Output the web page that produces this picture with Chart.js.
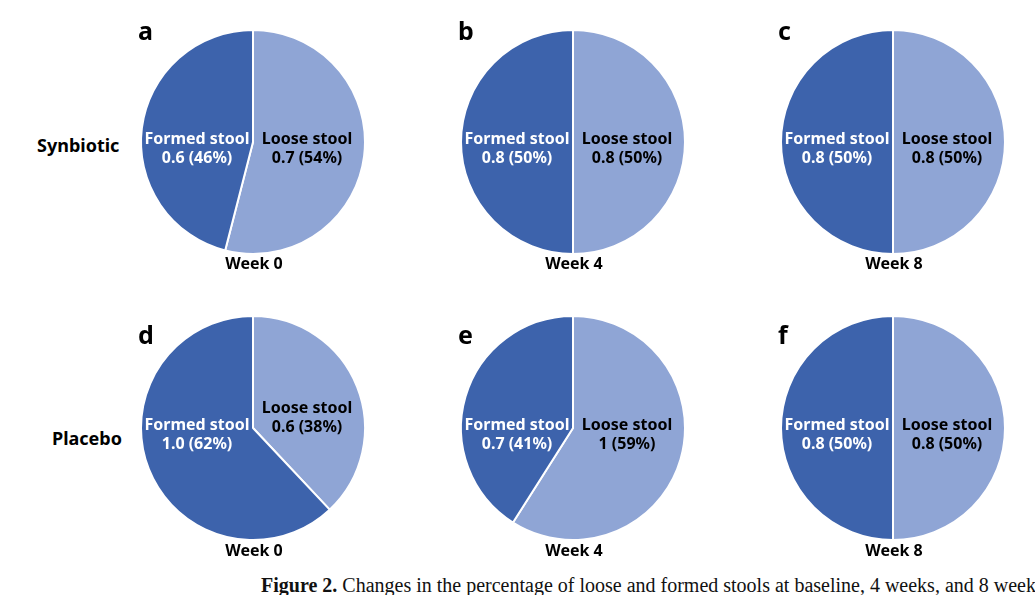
<!DOCTYPE html>
<html>
<head>
<meta charset="utf-8">
<script src="https://cdn.jsdelivr.net/npm/chart.js@4.4.1/dist/chart.umd.min.js"></script>
<style>
  body { margin: 0; width: 1035px; height: 595px; overflow: hidden; background: #fff; position: relative; font-family: "Noto Sans", sans-serif; }
  .pie { position: absolute; width: 240px; height: 240px; }
  .txt { position: absolute; font-weight: bold; white-space: nowrap; color: #000; line-height: 1; }
  .letter { font-size: 25px; }
  .group { font-size: 18px; }
  .week { font-size: 16px; transform: translateX(-50%); }
  #caption { position: absolute; top: 575px; font-family: "Liberation Serif", serif; font-size: 20px; white-space: nowrap; color: #111; line-height: 1; }
</style>
</head>
<body>
<div id="caption"><b>Figure 2.</b> <span id="capA">Changes in the percentage </span>of loose and formed stools at baseline, 4 weeks, and 8 weeks.</div>
<script>
// Data
const groups = ['Synbiotic', 'Placebo'];
const weeks = ['Week 0', 'Week 4', 'Week 8'];
const panelLetters = [['a', 'b', 'c'], ['d', 'e', 'f']];
const sliceNames = ['Loose stool', 'Formed stool'];

// percentages per week (loose first, then formed)
const synbioticLoosePct = [54, 50, 50];
const synbioticFormedPct = [46, 50, 50];
const placeboLoosePct = [38, 59, 50];
const placeboFormedPct = [62, 41, 50];

// mean values printed in the labels
const synbioticLooseVal = ['0.7', '0.8', '0.8'];
const synbioticFormedVal = ['0.6', '0.8', '0.8'];
const placeboLooseVal = ['0.6', '1', '0.8'];
const placeboFormedVal = ['1.0', '0.7', '0.8'];

const rows = [
  { loose: synbioticLoosePct, formed: synbioticFormedPct, looseVal: synbioticLooseVal, formedVal: synbioticFormedVal },
  { loose: placeboLoosePct, formed: placeboFormedPct, looseVal: placeboLooseVal, formedVal: placeboFormedVal }
];

// layout
const colX = [253, 573, 893];
const rowY = [141.5, 427.5];
const letterTop = [18, 322];
const weekTop = [255, 542];
const groupPos = [[37, 136], [52, 429]];
// the narrow loose slice of panel d has its label pushed up
const labelNudge = [[[0, 0], [0, 0], [0, 0]], [[-17, 0], [0, 0], [0, 0]]];

const darkBlue = '#3d63ac';
const lightBlue = '#8fa5d5';

// draws "name / value (pct%)" inside each slice
const sliceText = {
  id: 'sliceText',
  afterDatasetsDraw(chart, args, opts) {
    const ctx = chart.ctx;
    const arcs = chart.getDatasetMeta(0).data;
    arcs.forEach(function (arc, i) {
      const p = arc.getProps(['x', 'y', 'startAngle', 'endAngle', 'outerRadius']);
      const mid = (p.startAngle + p.endAngle) / 2;
      const side = Math.cos(mid) >= 0 ? 1 : -1;
      const lx = p.x + side * (side > 0 ? 54 : 56);
      const ly = p.y + 7 + opts.nudge[i];
      ctx.save();
      ctx.fillStyle = i === 0 ? '#000' : '#fff';
      ctx.font = 'bold 16px "Noto Sans"';
      ctx.textAlign = 'center';
      ctx.textBaseline = 'middle';
      ctx.fillText(sliceNames[i], lx, ly - 9.5);
      ctx.fillText(opts.values[i] + ' (' + chart.data.datasets[0].data[i] + '%)', lx, ly + 9.5);
      ctx.restore();
    });
  }
};

function addText(cls, text, left, top) {
  const d = document.createElement('div');
  d.className = 'txt ' + cls;
  d.textContent = text;
  d.style.left = left + 'px';
  d.style.top = top + 'px';
  document.body.appendChild(d);
}

groups.forEach(function (g, r) {
  addText('group', g, groupPos[r][0], groupPos[r][1]);
  weeks.forEach(function (w, c) {
    const box = document.createElement('div');
    box.className = 'pie';
    box.style.left = (colX[c] - 120) + 'px';
    box.style.top = (rowY[r] - 120) + 'px';
    const canvas = document.createElement('canvas');
    box.appendChild(canvas);
    document.body.appendChild(box);

    addText('letter', panelLetters[r][c], colX[c] - 115, letterTop[r]);
    addText('week', w, colX[c] + 1, weekTop[r]);

    new Chart(canvas, {
      type: 'pie',
      data: {
        labels: sliceNames,
        datasets: [{
          data: [rows[r].loose[c], rows[r].formed[c]],
          backgroundColor: [lightBlue, darkBlue],
          borderColor: '#fff',
          borderWidth: 2
        }]
      },
      options: {
        responsive: true,
        maintainAspectRatio: false,
        animation: false,
        radius: 112,
        layout: { padding: 0 },
        plugins: {
          legend: { display: false },
          tooltip: { enabled: false },
          sliceText: {
            values: [rows[r].looseVal[c], rows[r].formedVal[c]],
            nudge: labelNudge[r][c]
          }
        }
      },
      plugins: [sliceText]
    });
  });
});

// caption runs off the right edge; "of loose" sits at x≈557
const cap = document.getElementById('caption');
const capA = document.getElementById('capA');
const offset = capA.offsetLeft + capA.offsetWidth;
cap.style.left = (557 - offset) + 'px';
</script>
</body>
</html>
